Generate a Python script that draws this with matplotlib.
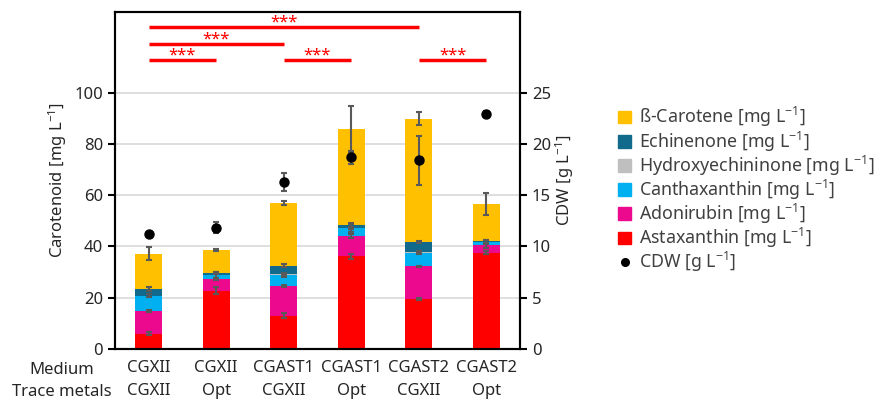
import numpy as np
import matplotlib.pyplot as plt
from matplotlib.lines import Line2D
from matplotlib.patches import Patch

plt.rcParams['font.family'] = ['Noto Sans', 'DejaVu Sans']
plt.rcParams['mathtext.fontset'] = 'custom'
plt.rcParams['mathtext.rm'] = 'Noto Sans'
plt.rcParams['mathtext.it'] = 'Noto Sans:italic'
plt.rcParams['mathtext.bf'] = 'Noto Sans:bold'

# culture conditions: medium / trace metals
medium = ['CGXII', 'CGXII', 'CGAST1', 'CGAST1', 'CGAST2', 'CGAST2']
trace_metals = ['CGXII', 'Opt', 'CGXII', 'Opt', 'CGXII', 'Opt']

# carotenoid titres [mg/L], stacked bottom to top
astaxanthin = [5.9, 22.8, 13.0, 36.1, 19.4, 37.6]
adonirubin = [8.9, 4.5, 11.6, 8.0, 12.8, 2.8]
canthaxanthin = [5.9, 1.7, 4.1, 3.0, 5.2, 1.3]
hydroxyechininone = [0.0, 0.0, 0.5, 0.2, 0.5, 0.0]
echinenone = [2.7, 0.6, 3.2, 1.1, 3.9, 0.3]
carotene = [13.8, 9.1, 24.6, 37.4, 48.2, 14.6]

# standard deviations of each component
astaxanthin_sd = [0.6, 1.3, 1.0, 0.8, 0.5, 0.6]
adonirubin_sd = [0.4, 0.5, 0.5, 0.7, 0.3, 0.8]
canthaxanthin_sd = [0.6, 1.2, 0.6, 1.5, 0.4, 0.9]
hydroxyechininone_sd = [0.0, 0.0, 0.3, 0.3, 0.3, 0.0]
echinenone_sd = [0.8, 0.4, 0.6, 0.8, 0.4, 0.5]
carotene_sd = [2.6, 0.5, 0.8, 9.0, 2.7, 4.2]

# cell dry weight [g/L]
cdw = [11.2, 11.85, 16.3, 18.7, 18.4, 22.9]
cdw_sd = [0.2, 0.55, 0.9, 0.6, 2.4, 0.3]

# significance brackets: (from group, to group, height)
brackets = [(0, 4, 125.7), (0, 2, 119.1), (0, 1, 112.8), (2, 3, 112.8), (4, 5, 112.8)]

components = [
    ('Astaxanthin [mg L$^{-1}$]', astaxanthin, astaxanthin_sd, '#FF0000'),
    ('Adonirubin [mg L$^{-1}$]', adonirubin, adonirubin_sd, '#EC098D'),
    ('Canthaxanthin [mg L$^{-1}$]', canthaxanthin, canthaxanthin_sd, '#00B0F0'),
    ('Hydroxyechininone [mg L$^{-1}$]', hydroxyechininone, hydroxyechininone_sd, '#BFBFBF'),
    ('Echinenone [mg L$^{-1}$]', echinenone, echinenone_sd, '#116A8C'),
    ('ß-Carotene [mg L$^{-1}$]', carotene, carotene_sd, '#FFC000'),
]

txt = '#262626'
fig = plt.figure(figsize=(8.77, 4.01), dpi=100)
ax = fig.add_axes([0.131, 0.130, 0.462, 0.840])
x = np.arange(len(medium))

for y in range(20, 101, 20):
    ax.axhline(y, color='#D9D9D9', lw=1.2, zorder=0)

bottom = np.zeros(len(x))
handles = []
for label, vals, sd, col in components:
    vals = np.array(vals)
    ax.bar(x, vals, 0.4, bottom=bottom, color=col, zorder=2)
    bottom = bottom + vals
    mask = vals > 0
    ax.errorbar(x[mask], bottom[mask], yerr=np.array(sd)[mask], fmt='none',
                ecolor='#595959', elinewidth=1.5, capsize=2.5, capthick=1.5, zorder=3)
    handles.append(Patch(color=col, label=label))

ax.set_xlim(-0.5, 5.5)
ax.set_ylim(0, 131.6)
ax.set_yticks(range(0, 101, 20))
ax.set_xticks(x)
ax.set_xticklabels([m + '\n' + t for m, t in zip(medium, trace_metals)],
                   fontsize=12, color=txt, linespacing=1.55)
ax.tick_params(axis='x', length=0, pad=8)
ax.tick_params(axis='y', labelsize=12, labelcolor=txt, length=5, width=1.5)
ax.set_ylabel('Carotenoid [mg L$^{-1}$]', fontsize=12, color=txt)
for s in ax.spines.values():
    s.set_linewidth(1.5)

# significance markers
for a, b, h in brackets:
    ax.plot([a, b], [h, h], color='#FF0000', lw=2.5, zorder=4, solid_capstyle='butt')
    ax.text((a + b) / 2, h - 1.5, '***', color='#FF0000', ha='center', va='bottom',
            fontsize=12, zorder=5)

# cell dry weight on secondary axis
ax2 = ax.twinx()
ax2.errorbar(x, cdw, yerr=cdw_sd, fmt='o', color='black', ms=6.5,
             ecolor='#595959', elinewidth=1.5, capsize=2.5, capthick=1.5, zorder=5)
ax2.set_ylim(0, 131.6 / 4)
ax2.set_yticks(range(0, 26, 5))
ax2.tick_params(axis='y', labelsize=12, labelcolor=txt, length=5, width=1.5)
ax2.set_ylabel('CDW [g L$^{-1}$]', fontsize=12, color=txt, labelpad=2)
for s in ax2.spines.values():
    s.set_linewidth(1.5)

fig.text(0.0707, 0.077, 'Medium', ha='center', va='center', fontsize=12, color=txt)
fig.text(0.0707, 0.022, 'Trace metals', ha='center', va='center', fontsize=12, color=txt)

handles = handles[::-1]
handles.append(Line2D([], [], marker='o', color='black', ls='none', ms=5.5,
                      label='CDW [g L$^{-1}$]'))
leg = fig.legend(handles=handles, loc='upper left', bbox_to_anchor=(0.697, 0.755),
                 frameon=False, fontsize=12.8, handlelength=0.7, handleheight=0.7,
                 handletextpad=0.45, labelspacing=0.0, borderaxespad=0)
for t in leg.get_texts():
    t.set_color('#404040')

fig.savefig('out.png', dpi=100)
